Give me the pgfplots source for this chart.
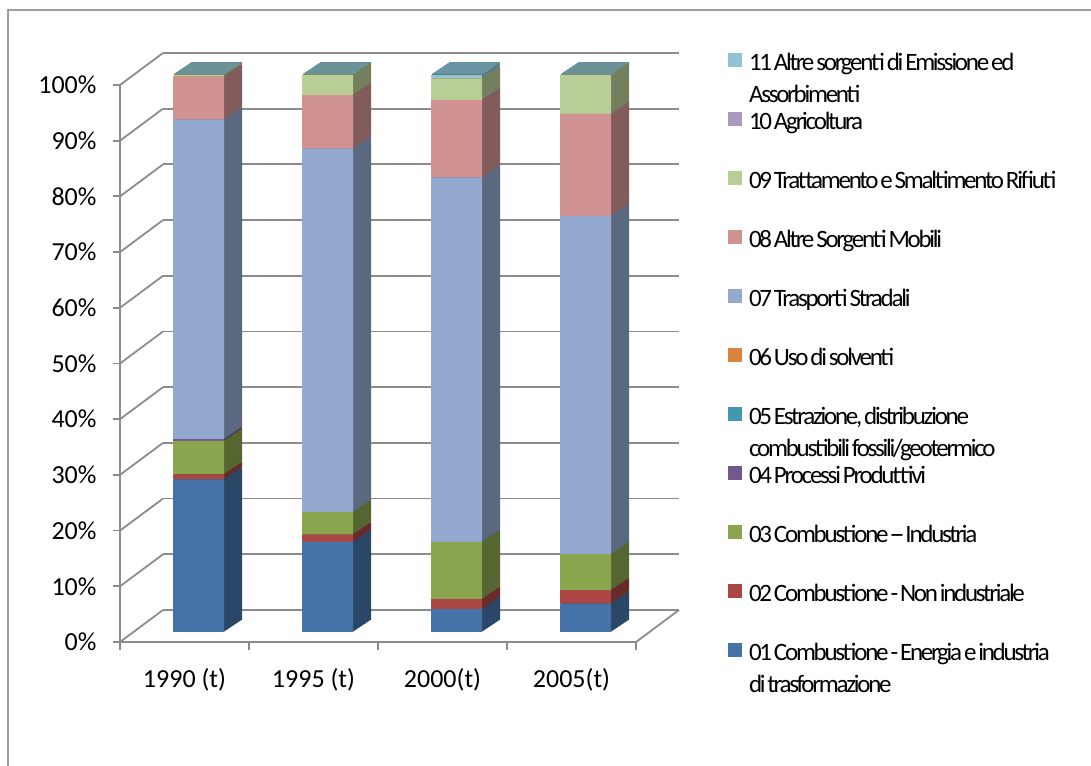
\documentclass[border=0pt]{standalone}
\usepackage{pgfplots}
\pgfplotsset{compat=1.18}
\usepackage{pgfplotstable}
\usepackage{fontspec}
\setmainfont{Carlito}
\newfontfamily\legfont[LetterSpace=-9.0, WordSpace=0.55]{Carlito}

\definecolor{c01}{HTML}{4572A7}
\definecolor{c02}{HTML}{AA4643}
\definecolor{c03}{HTML}{89A54E}
\definecolor{c04}{HTML}{71588F}
\definecolor{c05}{HTML}{4198AF}
\definecolor{c06}{HTML}{DB843D}
\definecolor{c07}{HTML}{93A9CF}
\definecolor{c08}{HTML}{D19392}
\definecolor{c09}{HTML}{B9CD96}
\definecolor{c10}{HTML}{A99BBD}
\definecolor{c11}{HTML}{91C3D5}
\definecolor{topface}{HTML}{6A96A3}
\definecolor{gridgray}{HTML}{8C8C8C}

% quote per macrosettore (% del totale)
\pgfplotstableread{
x s01 s02 s03 s04 s05 s06 s07 s08 s09 s10 s11
0 27.4 0.9 6.0 0.3 0 0 57.4 7.7 0.3 0 0
1 16.2 1.3 4.0 0 0 0 65.3 9.6 3.6 0 0
2 4.1 1.8 10.3 0 0 0 65.4 13.9 3.9 0 0.6
3 5.1 2.4 6.5 0 0 0 60.7 18.3 7.0 0 0
}\emissions

\pgfplotsset{
  plane/.style={scale only axis, width=516pt, height=557pt,
    xmin=-0.5, xmax=3.5, ymin=0, ymax=100, clip=false, anchor=south west},
  bars/.style={plane, ybar stacked, bar width=51pt, hide axis},
}

% #1 = colour suffix (empty for the front faces, darker for the sides)
\newcommand\stackplots[1]{%
  \addplot[fill=c01#1, draw=none] table[x=x, y=s01]{\emissions};
  \addplot[fill=c02#1, draw=none] table[x=x, y=s02]{\emissions};
  \addplot[fill=c03#1, draw=none] table[x=x, y=s03]{\emissions};
  \addplot[fill=c04#1, draw=none] table[x=x, y=s04]{\emissions};
  \addplot[fill=c05#1, draw=none] table[x=x, y=s05]{\emissions};
  \addplot[fill=c06#1, draw=none] table[x=x, y=s06]{\emissions};
  \addplot[fill=c07#1, draw=none] table[x=x, y=s07]{\emissions};
  \addplot[fill=c08#1, draw=none] table[x=x, y=s08]{\emissions};
  \addplot[fill=c09#1, draw=none] table[x=x, y=s09]{\emissions};
  \addplot[fill=c10#1, draw=none] table[x=x, y=s10]{\emissions};
  \addplot[fill=c11#1, draw=none] table[x=x, y=s11]{\emissions};
}
\newcommand\legone[1]{\raisebox{0pt}[18pt][6pt]{#1}}
\newcommand\legtwo[2]{\raisebox{0pt}[18pt][6pt]{\parbox[t]{340pt}{#1\\#2}}}

\begin{document}
\begin{tikzpicture}[x=1pt, y=1pt]
\useasboundingbox (0,0) rectangle (1091,765);
\draw[gray!75, line width=1.8pt] (8,-10) -- (8,755) -- (1100,755);

% back wall
\begin{axis}[plane, at={(163pt,155pt)},
  axis line style={draw=none}, xtick=\empty,
  ytick={0,10,...,100}, yticklabels={}, major tick length=0pt,
  ymajorgrids, grid style={gridgray, line width=1.8pt}]
\end{axis}

% left wall and floor edges
\foreach \v in {0,...,10}
  \draw[gridgray, line width=1.8pt] (120,123+55.7*\v) -- ++(43,32);
\draw[gridgray, line width=1.8pt] (636,123) -- ++(43,32);

% side and top faces of the columns
\foreach \s in {18,17,...,1}{
  \begin{axis}[bars, at={({134pt+\s*1pt},{133pt+0.6667*\s*1pt})}]
    \stackplots{!62!black}
    \addplot[fill=topface, draw=none] coordinates {(0,0.15) (1,0.15) (2,0.15) (3,0.15)};
  \end{axis}
}

% front faces + legend
\begin{axis}[bars, at={(134pt,133pt)},
  legend style={draw=none, fill=none, at={(1.145,1.048)}, anchor=north west,
    font=\legfont\fontsize{25}{32}\selectfont, row sep=35.5pt},
  legend cell align=left, reverse legend,
  legend image code/.code={\fill[#1] (0pt,-5pt) rectangle (14pt,9pt); \path (19pt,0pt);},
  legend entries={
    {\legtwo{01 Combustione - Energia e industria}{di trasformazione}},
    {\legone{02 Combustione - Non industriale}},
    {\legone{03 Combustione -- Industria}},
    {\legone{04 Processi Produttivi}},
    {\legtwo{05 Estrazione, distribuzione}{combustibili fossili/geotermico}},
    {\legone{06 Uso di solventi}},
    {\legone{07 Trasporti Stradali}},
    {\legone{08 Altre Sorgenti Mobili}},
    {\legone{09 Trattamento e Smaltimento Rifiuti}},
    {\legone{10 Agricoltura}},
    {\legtwo{11 Altre sorgenti di Emissione ed}{Assorbimenti}}}]
  \stackplots{}
\end{axis}

% front axis lines, ticks and labels
\begin{axis}[plane, at={(120pt,123pt)},
  axis x line*=bottom, axis y line*=left,
  axis line style={gridgray, line width=1.8pt, -},
  tick align=outside,
  ytick={0,10,...,100},
  yticklabels={0\%,10\%,20\%,30\%,40\%,50\%,60\%,70\%,80\%,90\%,100\%},
  xtick={0,1,2,3}, xticklabels={1990 (t),1995 (t),2000(t),2005(t)},
  minor xtick={-0.5,0.5,1.5,2.5,3.5},
  major tick length=7pt, minor tick length=8pt,
  major x tick style={draw=none},
  minor x tick style={gridgray, line width=1.8pt},
  ytick style={gridgray, line width=1.8pt},
  tick label style={font=\fontsize{26}{31}\selectfont, black},
  yticklabel style={xshift=-13pt},
  xticklabel style={yshift=-16pt}]
\end{axis}
\end{tikzpicture}
\end{document}
